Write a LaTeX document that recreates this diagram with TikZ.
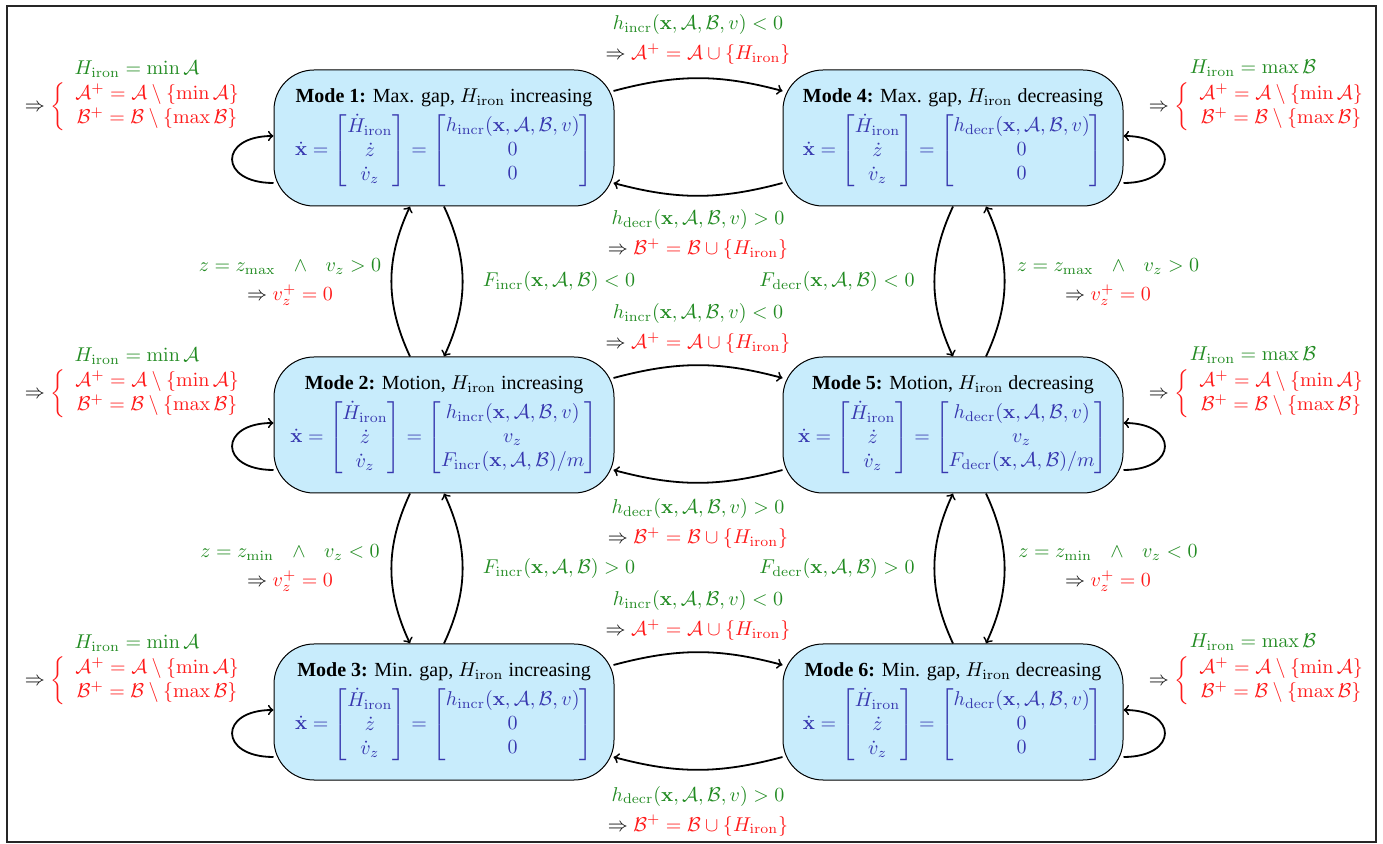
\documentclass[tikz,border=0pt]{standalone}
\usepackage{amsmath}
\usepackage[no-math]{fontspec}
\setmainfont{Liberation Serif}
\usetikzlibrary{calc}
\definecolor{grn}{RGB}{34,139,34}
\definecolor{rd}{RGB}{255,25,25}
\definecolor{mblue}{RGB}{55,55,175}
\definecolor{boxfill}{RGB}{200,236,252}
\newcommand{\Hir}{H_{\mathrm{iron}}}
\newcommand{\myA}{\mathcal{A}}
\newcommand{\myB}{\mathcal{B}}
\newcommand{\bx}{\mathbf{x}}
\newcommand{\andsp}{\hspace{7pt}\wedge\hspace{7pt}}
\newcommand{\modetext}[4]{\textbf{Mode #1:} #2, $\Hir$ #3\\[2.5pt]
 $\color{mblue}\dot{\mathbf{x}}=\begin{bmatrix}\dot{H}_{\mathrm{iron}}\\ \dot{z}\\ \dot{v}_z\end{bmatrix}=\begin{bmatrix}#4\end{bmatrix}$}
\newcommand{\effect}{$\Rightarrow\color{rd}\left\{\begin{array}{c}\myA^+=\myA\setminus\{\min\myA\}\\ \myB^+=\myB\setminus\{\max\myB\}\end{array}\right.$}
\tikzset{
  mode/.style={draw=black, fill=boxfill, rounded corners=20pt, minimum width=170pt,
    minimum height=68pt, align=center, inner sep=0pt, line width=0.5pt},
  conn/.style={->, line width=0.9pt},
  lbl/.style={align=center, inner sep=0pt},
}
\begin{document}
\begin{tikzpicture}[x=0.5pt,y=0.5pt]
\useasboundingbox (0,0) rectangle (1383,-844);
\draw[line width=0.6pt, black!85] (7,-6) rectangle (1376,-842);

% modes
\node[mode] (m1) at (444,-138) {\modetext{1}{Max. gap}{increasing}{h_{\mathrm{incr}}(\bx,\myA,\myB,v)\\ 0\\ 0}};
\node[mode] (m4) at (953,-138) {\modetext{4}{Max. gap}{decreasing}{h_{\mathrm{decr}}(\bx,\myA,\myB,v)\\ 0\\ 0}};
\node[mode] (m2) at (444,-425) {\modetext{2}{Motion}{increasing}{h_{\mathrm{incr}}(\bx,\myA,\myB,v)\\ v_z\\ F_{\mathrm{incr}}(\bx,\myA,\myB)/m}};
\node[mode] (m5) at (953,-425) {\modetext{5}{Motion}{decreasing}{h_{\mathrm{decr}}(\bx,\myA,\myB,v)\\ v_z\\ F_{\mathrm{decr}}(\bx,\myA,\myB)/m}};
\node[mode] (m3) at (444,-712) {\modetext{3}{Min. gap}{increasing}{h_{\mathrm{incr}}(\bx,\myA,\myB,v)\\ 0\\ 0}};
\node[mode] (m6) at (953,-712) {\modetext{6}{Min. gap}{decreasing}{h_{\mathrm{decr}}(\bx,\myA,\myB,v)\\ 0\\ 0}};

% side labels (self loops)
\node[lbl] (c1) at (137,-69) {\textcolor{grn}{$\Hir=\min\myA$}};
\node[lbl] (e1) at (138,-107) {\effect};
\node[lbl] (c2) at (137,-356) {\textcolor{grn}{$\Hir=\min\myA$}};
\node[lbl] (e2) at (138,-394) {\effect};
\node[lbl] (c3) at (137,-643) {\textcolor{grn}{$\Hir=\min\myA$}};
\node[lbl] (e3) at (138,-681) {\effect};
\node[lbl] (c4) at (1253,-68) {\textcolor{grn}{$\Hir=\max\myB$}};
\node[lbl] (e4) at (1262,-107) {\effect};
\node[lbl] (c5) at (1253,-355) {\textcolor{grn}{$\Hir=\max\myB$}};
\node[lbl] (e5) at (1262,-394) {\effect};
\node[lbl] (c6) at (1253,-642) {\textcolor{grn}{$\Hir=\max\myB$}};
\node[lbl] (e6) at (1262,-681) {\effect};

% horizontal labels
\node[lbl] (t14) at (698,-40) {\textcolor{grn}{$h_{\mathrm{incr}}(\bx,\myA,\myB,v)<0$}\\[3pt] $\Rightarrow\textcolor{rd}{\myA^+=\myA\cup\{\Hir\}}$};
\node[lbl] (b41) at (698,-235) {\textcolor{grn}{$h_{\mathrm{decr}}(\bx,\myA,\myB,v)>0$}\\[3pt] $\Rightarrow\textcolor{rd}{\myB^+=\myB\cup\{\Hir\}}$};
\node[lbl] (t25) at (698,-329) {\textcolor{grn}{$h_{\mathrm{incr}}(\bx,\myA,\myB,v)<0$}\\[3pt] $\Rightarrow\textcolor{rd}{\myA^+=\myA\cup\{\Hir\}}$};
\node[lbl] (b52) at (698,-524) {\textcolor{grn}{$h_{\mathrm{decr}}(\bx,\myA,\myB,v)>0$}\\[3pt] $\Rightarrow\textcolor{rd}{\myB^+=\myB\cup\{\Hir\}}$};
\node[lbl] (t36) at (698,-616) {\textcolor{grn}{$h_{\mathrm{incr}}(\bx,\myA,\myB,v)<0$}\\[3pt] $\Rightarrow\textcolor{rd}{\myA^+=\myA\cup\{\Hir\}}$};
\node[lbl] (b63) at (698,-811) {\textcolor{grn}{$h_{\mathrm{decr}}(\bx,\myA,\myB,v)>0$}\\[3pt] $\Rightarrow\textcolor{rd}{\myB^+=\myB\cup\{\Hir\}}$};

% vertical labels
\node[lbl] (v12) at (290,-282) {\textcolor{grn}{$z=z_{\max}\andsp v_z>0$}\\[2.5pt] $\Rightarrow\textcolor{rd}{v_z^+=0}$};
\node[lbl] (f12) at (559,-282) {\textcolor{grn}{$F_{\mathrm{incr}}(\bx,\myA,\myB)<0$}};
\node[lbl] (f45) at (837,-282) {\textcolor{grn}{$F_{\mathrm{decr}}(\bx,\myA,\myB)<0$}};
\node[lbl] (v45) at (1108,-282) {\textcolor{grn}{$z=z_{\max}\andsp v_z>0$}\\[2.5pt] $\Rightarrow\textcolor{rd}{v_z^+=0}$};
\node[lbl] (v23) at (290,-568) {\textcolor{grn}{$z=z_{\min}\andsp v_z<0$}\\[2.5pt] $\Rightarrow\textcolor{rd}{v_z^+=0}$};
\node[lbl] (f23) at (559,-569) {\textcolor{grn}{$F_{\mathrm{incr}}(\bx,\myA,\myB)>0$}};
\node[lbl] (f56) at (837,-569) {\textcolor{grn}{$F_{\mathrm{decr}}(\bx,\myA,\myB)>0$}};
\node[lbl] (v56) at (1108,-568) {\textcolor{grn}{$z=z_{\min}\andsp v_z<0$}\\[2.5pt] $\Rightarrow\textcolor{rd}{v_z^+=0}$};

% self loops
\draw[conn] ($(m1.west)+(0,-45)$) .. controls +(-55,0) and +(-55,0) .. ($(m1.west)+(0,2)$);
\draw[conn] ($(m2.west)+(0,-45)$) .. controls +(-55,0) and +(-55,0) .. ($(m2.west)+(0,2)$);
\draw[conn] ($(m3.west)+(0,-45)$) .. controls +(-55,0) and +(-55,0) .. ($(m3.west)+(0,2)$);
\draw[conn] ($(m4.east)+(0,-45)$) .. controls +(55,0) and +(55,0) .. ($(m4.east)+(0,2)$);
\draw[conn] ($(m5.east)+(0,-45)$) .. controls +(55,0) and +(55,0) .. ($(m5.east)+(0,2)$);
\draw[conn] ($(m6.east)+(0,-45)$) .. controls +(55,0) and +(55,0) .. ($(m6.east)+(0,2)$);

% horizontal transitions
\draw[conn] ($(m1.east)+(-1,47)$) to[bend left=15] ($(m4.west)+(0,47)$);
\draw[conn] ($(m4.west)+(0,-45)$) to[bend left=15] ($(m1.east)+(-1,-45)$);
\draw[conn] ($(m2.east)+(-1,47)$) to[bend left=15] ($(m5.west)+(0,47)$);
\draw[conn] ($(m5.west)+(0,-45)$) to[bend left=15] ($(m2.east)+(-1,-45)$);
\draw[conn] ($(m3.east)+(-1,47)$) to[bend left=15] ($(m6.west)+(0,47)$);
\draw[conn] ($(m6.west)+(0,-45)$) to[bend left=15] ($(m3.east)+(-1,-45)$);

% vertical transitions
\draw[conn] (m1.south) to[bend left=25] (m2.north);
\draw[conn] ($(m2.north)+(-34,0)$) to[bend left=25] ($(m1.south)+(-34,0)$);
\draw[conn] ($(m2.south)+(-34,0)$) to[bend right=25] ($(m3.north)+(-34,0)$);
\draw[conn] (m3.north) to[bend right=25] (m2.south);
\draw[conn] (m4.south) to[bend right=25] (m5.north);
\draw[conn] ($(m5.north)+(33,0)$) to[bend right=25] ($(m4.south)+(33,0)$);
\draw[conn] ($(m5.south)+(33,0)$) to[bend left=25] ($(m6.north)+(33,0)$);
\draw[conn] (m6.north) to[bend left=25] (m5.south);
\end{tikzpicture}
\end{document}
